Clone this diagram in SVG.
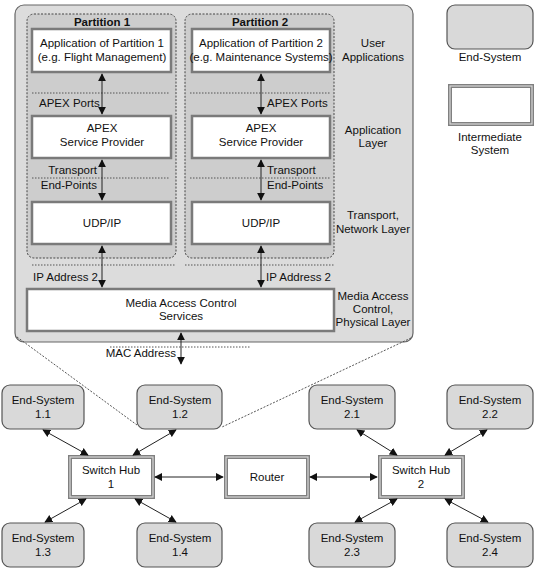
<svg xmlns="http://www.w3.org/2000/svg" width="535" height="569" viewBox="0 0 535 569">
<style>
text{font-family:"Liberation Sans",Arial,sans-serif;font-size:11.5px;fill:#111;text-anchor:middle}
.b{font-weight:bold}
.l{text-anchor:start}
.r{text-anchor:end}
.es{fill:#d9d9d9;stroke:#555;stroke-width:1.2}
.big{fill:#dcdcdc;stroke:#666;stroke-width:1.2}
.part{fill:#cdcdcd;stroke:#444;stroke-width:1;stroke-dasharray:2,1.5}
.wb{fill:#fff;stroke:#7a7a7a;stroke-width:2.5}
.is{fill:#fff;stroke:#808080;stroke-width:4}
.isi{fill:none;stroke:#d8d8d8;stroke-width:1.2}
.dot{stroke:#555;stroke-width:1;stroke-dasharray:1.5,1.5;fill:none}
.dash{stroke:#444;stroke-width:0.9;stroke-dasharray:2,1.5;fill:none}
.ar{stroke:#222;stroke-width:1;fill:none;marker-start:url(#h);marker-end:url(#h)}
</style>
<defs>
<marker id="h" viewBox="0 0 10 10" refX="9" refY="5" markerWidth="8" markerHeight="8" markerUnits="userSpaceOnUse" orient="auto-start-reverse">
<path d="M0,0 L10,5 L0,10 z" fill="#111"/>
</marker>
</defs>

<g id="end-system-detail">
<rect class="big" x="15" y="5" width="398" height="337" rx="9"/>
</g>

<g id="zoom-lines">
<path class="dash" d="M17,337 L137,425"/>
<path class="dash" d="M411,338 L222,427"/>
</g>

<g id="partition1">
<rect class="part" x="27" y="14" width="149" height="244" rx="7"/>
<text class="b" x="102" y="26">Partition 1</text>
</g>
<g id="partition2">
<rect class="part" x="185" y="14" width="149" height="244" rx="7"/>
<text class="b" x="260" y="26">Partition 2</text>
</g>

<g id="app1">
<rect class="wb" x="32" y="29" width="139" height="43"/>
<text x="102" y="47">Application of Partition 1</text>
<text x="102" y="61">(e.g. Flight Management)</text>
</g>
<g id="app2">
<rect class="wb" x="192" y="29" width="138" height="43"/>
<text x="261" y="47">Application of Partition 2</text>
<text x="261" y="61">(e.g. Maintenance Systems)</text>
</g>

<g id="apex1">
<rect class="wb" x="32" y="116" width="139" height="42"/>
<text x="102" y="132">APEX</text>
<text x="102" y="146">Service Provider</text>
</g>
<g id="apex2">
<rect class="wb" x="192" y="116" width="138" height="42"/>
<text x="261" y="132">APEX</text>
<text x="261" y="146">Service Provider</text>
</g>

<g id="udp1">
<rect class="wb" x="32" y="202" width="139" height="42"/>
<text x="102" y="227">UDP/IP</text>
</g>
<g id="udp2">
<rect class="wb" x="192" y="202" width="138" height="42"/>
<text x="261" y="227">UDP/IP</text>
</g>

<g id="mac">
<rect class="wb" x="27" y="289" width="307" height="42"/>
<text x="181" y="307">Media Access Control</text>
<text x="181" y="320">Services</text>
</g>

<g id="interface-lines">
<path class="dot" d="M32,93 H170 M190,93 H330"/>
<path class="dot" d="M32,178 H170 M190,178 H330"/>
<path class="dot" d="M32,265 H176 M185,265 H335"/>
<path class="dot" d="M110,347 H250"/>
<text class="l" x="39" y="107">APEX Ports</text>
<text class="l" x="267" y="107">APEX Ports</text>
<text class="r" x="97" y="174">Transport</text>
<text class="r" x="97" y="189">End-Points</text>
<text class="l" x="267" y="174">Transport</text>
<text class="l" x="267" y="189">End-Points</text>
<text class="l" x="33" y="281">IP Address 2</text>
<text class="l" x="266" y="281">IP Address 2</text>
<text class="r" x="176" y="357">MAC Address</text>
</g>

<g id="layer-labels">
<text x="373" y="47">User</text>
<text x="373" y="61">Applications</text>
<text x="373" y="134">Application</text>
<text x="373" y="147">Layer</text>
<text x="373" y="219">Transport,</text>
<text x="373" y="233">Network Layer</text>
<text x="373" y="300">Media Access</text>
<text x="373" y="313">Control,</text>
<text x="373" y="326">Physical Layer</text>
</g>

<g id="legend-end-system">
<rect class="es" x="447" y="5" width="86" height="44" rx="8"/>
<text x="490" y="61">End-System</text>
</g>
<g id="legend-intermediate">
<rect class="is" x="450" y="86" width="82" height="38"/>
<rect class="isi" x="450" y="86" width="82" height="38"/>
<text x="490" y="141">Intermediate</text>
<text x="490" y="154">System</text>
</g>

<g id="es11"><rect class="es" x="2" y="385" width="82" height="44" rx="8"/><text x="43" y="404">End-System</text><text x="43" y="418">1.1</text></g>
<g id="es12"><rect class="es" x="137" y="385" width="85" height="44" rx="8"/><text x="180" y="404">End-System</text><text x="180" y="418">1.2</text></g>
<g id="es13"><rect class="es" x="2" y="523" width="82" height="44" rx="8"/><text x="43" y="542">End-System</text><text x="43" y="556">1.3</text></g>
<g id="es14"><rect class="es" x="137" y="523" width="85" height="44" rx="8"/><text x="180" y="542">End-System</text><text x="180" y="556">1.4</text></g>
<g id="es21"><rect class="es" x="309" y="385" width="86" height="44" rx="8"/><text x="352" y="404">End-System</text><text x="352" y="418">2.1</text></g>
<g id="es22"><rect class="es" x="447" y="385" width="86" height="44" rx="8"/><text x="490" y="404">End-System</text><text x="490" y="418">2.2</text></g>
<g id="es23"><rect class="es" x="309" y="523" width="86" height="44" rx="8"/><text x="352" y="542">End-System</text><text x="352" y="556">2.3</text></g>
<g id="es24"><rect class="es" x="447" y="523" width="86" height="44" rx="8"/><text x="490" y="542">End-System</text><text x="490" y="556">2.4</text></g>

<g id="switch1"><rect class="is" x="70" y="457" width="83" height="40"/><rect class="isi" x="70" y="457" width="83" height="40"/><text x="111" y="474">Switch Hub</text><text x="111" y="488">1</text></g>
<g id="router"><rect class="is" x="226" y="457" width="82" height="40"/><rect class="isi" x="226" y="457" width="82" height="40"/><text x="267" y="481">Router</text></g>
<g id="switch2"><rect class="is" x="380" y="457" width="83" height="40"/><rect class="isi" x="380" y="457" width="83" height="40"/><text x="421" y="474">Switch Hub</text><text x="421" y="488">2</text></g>

<g id="connectors">
<path class="ar" d="M102,74 V114"/>
<path class="ar" d="M261,74 V114"/>
<path class="ar" d="M102,160 V200"/>
<path class="ar" d="M261,160 V200"/>
<path class="ar" d="M102,246 V287"/>
<path class="ar" d="M261,246 V287"/>
<path class="ar" d="M181,333 V364"/>
<path class="ar" d="M43,430 L88,455"/>
<path class="ar" d="M176,430 L133,455"/>
<path class="ar" d="M86,499 L45,522"/>
<path class="ar" d="M135,499 L176,522"/>
<path class="ar" d="M155,477 H223"/>
<path class="ar" d="M310,477 H377"/>
<path class="ar" d="M357,430 L397,455"/>
<path class="ar" d="M487,430 L445,455"/>
<path class="ar" d="M397,499 L355,522"/>
<path class="ar" d="M445,499 L488,522"/>
</g>
</svg>
